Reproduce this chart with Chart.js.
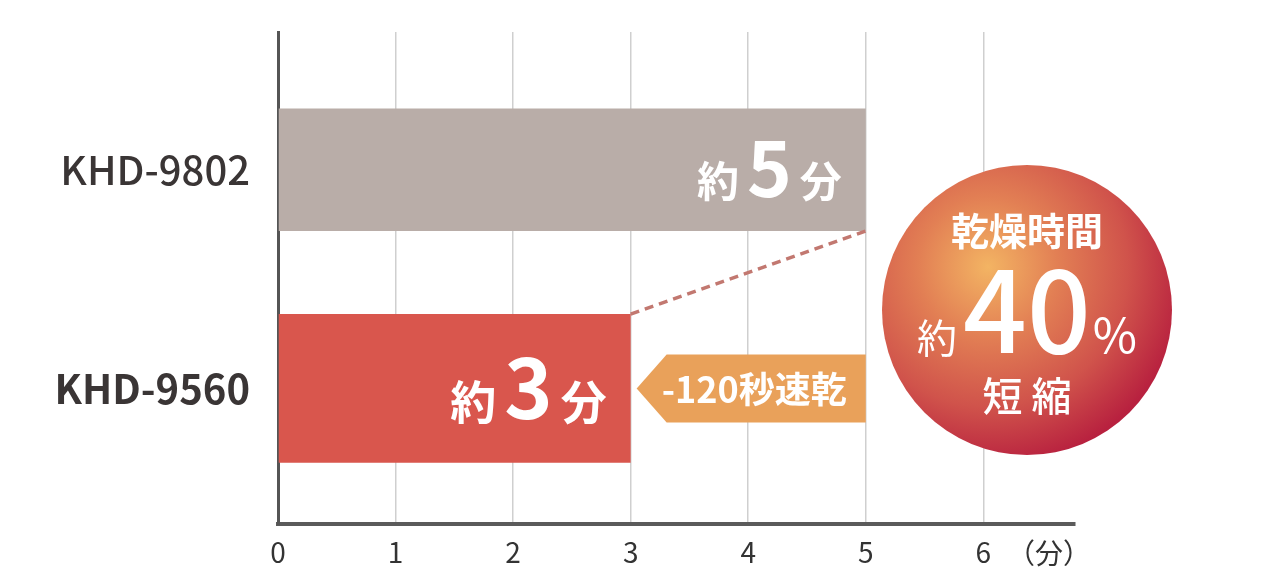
<!DOCTYPE html>
<html lang="ja">
<head>
<meta charset="utf-8">
<title>乾燥時間</title>
<script src="https://cdn.jsdelivr.net/npm/chart.js@4.4.1/dist/chart.umd.min.js"></script>
<style>
  html, body { margin: 0; padding: 0; background: #fff; }
  #wrap { width: 1281px; height: 578px; position: relative; }
</style>
</head>
<body>
<div id="wrap"><canvas id="chart"></canvas></div>
<script>
// models, top to bottom, and their drying time in minutes
const models = ['KHD-9802', 'KHD-9560'];
const dryMinutes = [5, 3];
const xTicks = [0, 1, 2, 3, 4, 5, 6];
const unitLabel = '（分）';
const badgeTitle = '乾燥時間';
const badgeFoot = '短 縮';

const FONT = '"Noto Sans CJK JP", "Noto Sans", sans-serif';

// derived from the data
const savedSec = (dryMinutes[0] - dryMinutes[1]) * 60;
const savedPct = Math.round((dryMinutes[0] - dryMinutes[1]) / dryMinutes[0] * 100);

// draws "約N分" right aligned inside a bar
function drawValue(ctx, bar, value, kanjiSize, numSize, drop) {
  const parts = [['約', kanjiSize], [String(value), numSize], ['分', kanjiSize]];
  let xr = bar.x - 24;
  const base = bar.y + drop;
  ctx.textAlign = 'right';
  ctx.textBaseline = 'alphabetic';
  ctx.fillStyle = '#fff';
  for (let i = parts.length - 1; i >= 0; i--) {
    ctx.font = `bold ${parts[i][1]}px ${FONT}`;
    ctx.fillText(parts[i][0], xr, base);
    xr -= ctx.measureText(parts[i][0]).width + 8;
  }
}

const extras = {
  id: 'extras',
  afterDatasetsDraw(chart) {
    const { ctx, chartArea } = chart;
    const top = chart.getDatasetMeta(0).data[0];
    const low = chart.getDatasetMeta(1).data[0];
    ctx.save();

    // dashed line between the two bar ends
    ctx.strokeStyle = '#c27870';
    ctx.lineWidth = 3.5;
    ctx.setLineDash([9, 6]);
    ctx.beginPath();
    ctx.moveTo(low.x, low.y - low.height / 2);
    ctx.lineTo(top.x, top.y + top.height / 2);
    ctx.stroke();
    ctx.setLineDash([]);

    // arrow callout with the time saved
    const tip = low.x + 6, body = tip + 30, right = top.x, cy = low.y, h = 34;
    ctx.fillStyle = '#e9a15a';
    ctx.beginPath();
    ctx.moveTo(tip, cy);
    ctx.lineTo(body, cy - h);
    ctx.lineTo(right, cy - h);
    ctx.lineTo(right, cy + h);
    ctx.lineTo(body, cy + h);
    ctx.closePath();
    ctx.fill();
    ctx.fillStyle = '#fff';
    ctx.font = `bold 36px ${FONT}`;
    ctx.textAlign = 'center';
    ctx.textBaseline = 'middle';
    ctx.fillText(`-${savedSec}秒速乾`, (body + right) / 2 - 12, cy + 1);

    // values inside bars
    drawValue(ctx, top, dryMinutes[0], 42, 76, 27);
    drawValue(ctx, low, dryMinutes[1], 46, 82, 31);

    // unit label at the end of the x axis
    ctx.fillStyle = '#333';
    ctx.font = `28px ${FONT}`;
    ctx.textAlign = 'right';
    ctx.textBaseline = 'middle';
    ctx.fillText(unitLabel, chartArea.right + 16, chartArea.bottom + 29);

    // round badge
    const bx = chartArea.right - 48, by = (chartArea.top + chartArea.bottom) / 2 + 32, r = 145;
    const g = ctx.createRadialGradient(bx - 39, by - 43, 0, bx - 39, by - 43, r * 1.38);
    g.addColorStop(0, '#f3b463');
    g.addColorStop(0.35, '#e27f54');
    g.addColorStop(0.7, '#d0534b');
    g.addColorStop(1, '#b8213f');
    ctx.fillStyle = g;
    ctx.beginPath();
    ctx.arc(bx, by, r, 0, Math.PI * 2);
    ctx.fill();

    ctx.fillStyle = '#fff';
    ctx.textAlign = 'center';
    ctx.textBaseline = 'alphabetic';
    ctx.font = `bold 38px ${FONT}`;
    ctx.fillText(badgeTitle, bx, by - 65);
    ctx.font = `500 40px ${FONT}`;
    ctx.fillText(badgeFoot, bx, by + 101);

    // 約 40 %
    const pieces = [['約', `40px ${FONT}`, 6], [String(savedPct), `500 112px ${FONT}`, 2], ['%', `48px ${FONT}`, 0]];
    let total = 0;
    pieces.forEach(p => { ctx.font = p[1]; p.push(ctx.measureText(p[0]).width); total += p[3] + p[2]; });
    let lx = bx - total / 2;
    ctx.textAlign = 'left';
    pieces.forEach(p => {
      ctx.font = p[1];
      ctx.fillText(p[0], lx, by + 43);
      lx += p[3] + p[2];
    });

    ctx.restore();
  }
};

new Chart(document.getElementById('chart'), {
  type: 'bar',
  data: {
    datasets: models.map((m, i) => ({
      label: m,
      data: [{ x: dryMinutes[i], y: i + 1 }],
      backgroundColor: i === 0 ? '#b9ada8' : '#d9564d',
      categoryPercentage: 1,
      barPercentage: i === 0 ? 0.56 : 0.68,
      grouped: false,
    })),
  },
  options: {
    indexAxis: 'y',
    responsive: true,
    maintainAspectRatio: false,
    animation: false,
    layout: { padding: { top: 32, right: 206, left: 0, bottom: 0 } },
    plugins: {
      legend: { display: false },
      tooltip: { enabled: false },
    },
    scales: {
      x: {
        type: 'linear',
        min: 0,
        max: 6.78,
        afterBuildTicks: (scale) => { scale.ticks = xTicks.map(v => ({ value: v })); },
        afterFit: (scale) => { scale.height = 54; },
        grid: { color: '#cfcfcf', lineWidth: 1.5, drawTicks: false },
        border: { color: '#5b5b5b', width: 4 },
        ticks: {
          padding: 12,
          color: '#333',
          font: { family: FONT, size: 28 },
          maxRotation: 0,
        },
      },
      y: {
        type: 'linear',
        reverse: true,
        offset: false,
        min: 0.37,
        max: 2.62,
        afterBuildTicks: (scale) => { scale.ticks = models.map((_, i) => ({ value: i + 1 })); },
        afterFit: (scale) => {
          scale.width = 278;
          scale.paddingTop = 0;
          scale.paddingBottom = 0;
        },
        grid: { display: false, drawTicks: false },
        border: { color: '#555', width: 3 },
        ticks: {
          padding: 28,
          color: '#3a3535',
          callback: (v) => models[v - 1],
          font: (c) => ({ family: FONT, size: 40, weight: c.index === 1 ? 'bold' : '500' }),
        },
      },
    },
  },
  plugins: [extras],
});
</script>
</body>
</html>
